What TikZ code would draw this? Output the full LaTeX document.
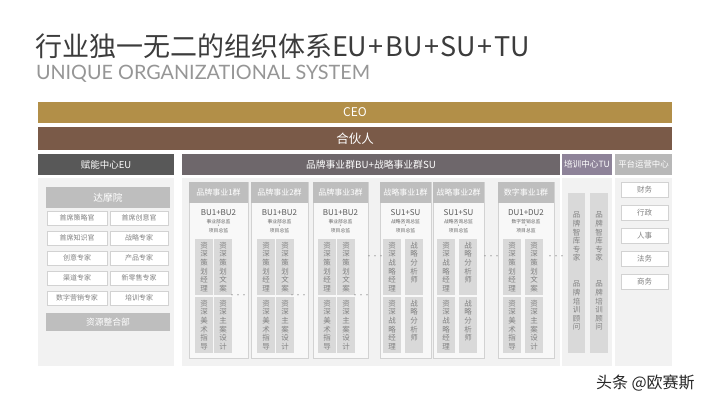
\documentclass[tikz,border=0pt]{standalone}
\usepackage{fontspec}
\setmainfont{Noto Sans CJK SC}
\newfontfamily\latinfont{Lato}
\usetikzlibrary{positioning}

\definecolor{ceogold}{RGB}{178,143,72}
\definecolor{partnerbrown}{RGB}{122,90,72}
\definecolor{eugray}{RGB}{88,88,88}
\definecolor{bugray}{RGB}{110,103,107}
\definecolor{tupurple}{RGB}{142,131,153}
\definecolor{platgray}{RGB}{184,184,184}
\definecolor{panelbg}{RGB}{242,242,242}
\definecolor{grpfill}{RGB}{248,248,248}
\definecolor{grpline}{RGB}{210,210,210}
\definecolor{pillargray}{RGB}{217,217,217}
\definecolor{headgray}{RGB}{190,190,190}
\definecolor{labelgray}{RGB}{130,130,130}
\definecolor{titlegray}{RGB}{60,60,60}
\definecolor{subgray}{RGB}{150,150,150}

\begin{document}
\begin{tikzpicture}[x=1pt,y=-1pt,
    every node/.style={inner sep=0pt,outer sep=0pt},
    bar/.style={rectangle,anchor=north west,text=white,minimum height=21pt},
    panel/.style={rectangle,anchor=north west,fill=panelbg,minimum height=188pt},
    subhead/.style={rectangle,anchor=north west,fill=headgray,text=white},
    item/.style={rectangle,anchor=north west,fill=white,draw=grpline,line width=0.6pt,
      minimum height=14pt,text=labelgray,font=\fontsize{7}{7}\selectfont},
    grpbox/.style={rectangle,anchor=north west,fill=grpfill,draw=grpline,line width=0.5pt,
      minimum height=176pt},
    grphead/.style={rectangle,anchor=north west,fill=headgray,text=white,minimum height=21pt,
      font=\fontsize{8}{8}\selectfont},
    pillar/.style={rectangle,anchor=north west,fill=pillargray,minimum width=18pt,minimum height=56pt}]
  \tikzstyle{vtext}=[anchor=north,text=labelgray,align=center,text width=8pt,
    font=\fontsize{7.5}{8.6}\selectfont]
  \tikzstyle{codetext}=[text=black!65,font=\fontsize{8}{8}\selectfont]
  \tikzstyle{tinytext}=[text=black!60,font=\fontsize{4.8}{4.8}\selectfont]
  \tikzstyle{dots}=[text=labelgray,font=\fontsize{6}{6}\selectfont]

  \fill[white] (0,0) rectangle (720,405);
  \useasboundingbox (0,0) rectangle (720,405);

  % Title
  \node[anchor=west,text=titlegray,font=\fontsize{27}{27}\selectfont] (title) at (35,46)
    {行业独一无二的组织体系EU\kern1.5pt+\kern1.5pt BU\kern1.5pt+\kern1.5pt SU\kern1.5pt+\kern1.5pt TU};
  \node[anchor=west,text=subgray,font=\latinfont\fontsize{19.8}{19.8}\selectfont] (subtitle) at (36,74)
    {UNIQUE ORGANIZATIONAL SYSTEM};

  % Top bars
  \node[bar,fill=ceogold,minimum width=634pt,font=\fontsize{12}{12}\selectfont] (ceo) at (38,102) {CEO};
  \node[bar,fill=partnerbrown,minimum width=634pt,minimum height=23pt,
    font=\fontsize{12.5}{12.5}\selectfont] (partner) at (38,127) {合伙人};
  \node[bar,fill=eugray,minimum width=136pt,font=\fontsize{9.5}{9.5}\selectfont] (eu) at (38,154) {赋能中心EU};
  \node[bar,fill=bugray,minimum width=378pt,font=\fontsize{9.8}{9.8}\selectfont] (bu) at (182,154)
    {品牌事业群BU+战略事业群SU};
  \node[bar,fill=tupurple,minimum width=50pt,font=\fontsize{8.6}{8.6}\selectfont] (tu) at (562,154) {培训中心TU};
  \node[bar,fill=platgray,minimum width=57pt,font=\fontsize{8.4}{8.4}\selectfont] (plat) at (615,154) {平台运营中心};

  % Panels
  \node[panel,minimum width=136pt] (eupanel) at (38,178) {};
  \node[panel,minimum width=378pt] (bupanel) at (182,178) {};
  \node[panel,minimum width=50pt] (tupanel) at (562,178) {};
  \node[panel,minimum width=57pt] (platpanel) at (615,178) {};

  % EU panel
  \node[subhead,minimum width=124pt,minimum height=21pt,font=\fontsize{9.7}{9.7}\selectfont] (damo) at (46,187) {达摩院};
  \node[item,minimum width=60pt] (e1) at (47,211) {首席策略官};
  \node[item,minimum width=58pt] (e2) [right=3pt of e1.north east,anchor=north west] {首席创意官};
  \node[item,minimum width=60pt] (e3) [below=6pt of e1] {首席知识官};
  \node[item,minimum width=58pt] (e4) [below=6pt of e2] {战略专家};
  \node[item,minimum width=60pt] (e5) [below=6pt of e3] {创意专家};
  \node[item,minimum width=58pt] (e6) [below=6pt of e4] {产品专家};
  \node[item,minimum width=60pt] (e7) [below=6pt of e5] {渠道专家};
  \node[item,minimum width=58pt] (e8) [below=6pt of e6] {新零售专家};
  \node[item,minimum width=60pt] (e9) [below=6pt of e7] {数字营销专家};
  \node[item,minimum width=58pt] (e10) [below=6pt of e8] {培训专家};
  \node[subhead,minimum width=124pt,minimum height=18pt,font=\fontsize{8.8}{8.8}\selectfont] (res) at (46,313) {资源整合部};

  % Brand and digital groups
  \foreach \i/\bx/\bw/\lx/\rx/\hd/\code/\lead in {
      1/189/59/195/214/品牌事业1群/BU1+BU2/事业部总监,
      2/251/57/257/276/品牌事业2群/BU1+BU2/事业部总监,
      3/313/55/318/337/品牌事业3群/BU1+BU2/事业部总监,
      6/498/56/503/525/数字事业1群/DU1+DU2/数字营销总监}{
    \node[grpbox,minimum width=\bw pt] (g\i) at (\bx,182) {};
    \node[grphead,minimum width=\bw pt] (h\i) at (\bx,182) {\hd};
    \node[codetext] (c\i) at (\bx+\bw/2,213) {\code};
    \node[tinytext] (l\i) at (\bx+\bw/2,222) {\lead};
    \node[tinytext] (s\i) at (\bx+\bw/2,226.6) {•};
    \node[tinytext] (r\i) at (\bx+\bw/2,231) {项目总监};
    \node[pillar] (pa\i) at (\lx,239) {};
    \node[pillar] (pb\i) at (\rx,239) {};
    \node[pillar] (pc\i) at (\lx,297) {};
    \node[pillar] (pd\i) at (\rx,297) {};
    \node[vtext] (ta\i) at (\lx+9,242) {资\\深\\策\\划\\经\\理};
    \node[vtext] (tb\i) at (\rx+9,242) {资\\深\\策\\划\\文\\案};
    \node[vtext] (tc\i) at (\lx+9,300) {资\\深\\美\\术\\指\\导};
    \node[vtext] (td\i) at (\rx+9,300) {资\\深\\主\\案\\设\\计};
  }

  % Strategy groups
  \foreach \i/\bx/\bw/\lx/\rx/\hd in {
      4/380/51/383/405/战略事业1群,
      5/433/51/437/459/战略事业2群}{
    \node[grpbox,minimum width=\bw pt] (g\i) at (\bx,182) {};
    \node[grphead,minimum width=\bw pt] (h\i) at (\bx,182) {\hd};
    \node[codetext] (c\i) at (\bx+\bw/2,213) {SU1+SU};
    \node[tinytext] (l\i) at (\bx+\bw/2,222) {战略咨询总监};
    \node[tinytext] (s\i) at (\bx+\bw/2,226.6) {•};
    \node[tinytext] (r\i) at (\bx+\bw/2,231) {项目总监};
    \node[pillar] (pa\i) at (\lx,239) {};
    \node[pillar] (pb\i) at (\rx,239) {};
    \node[pillar] (pc\i) at (\lx,297) {};
    \node[pillar] (pd\i) at (\rx,297) {};
    \node[vtext] (ta\i) at (\lx+9,242) {资\\深\\战\\略\\经\\理};
    \node[vtext] (tb\i) at (\rx+9,242) {战\\略\\分\\析\\师};
    \node[vtext] (tc\i) at (\lx+9,300) {资\\深\\战\\略\\经\\理};
    \node[vtext] (td\i) at (\rx+9,300) {战\\略\\分\\析\\师};
  }

  % More to come
  \node[dots] (d1) at (238,296) {···};
  \node[dots] (d2) at (298,296) {···};
  \node[dots] (d3) at (361,296) {···};
  \node[dots] (d4) at (375,257) {···};
  \node[dots] (d5) at (491,257) {···};
  \node[dots] (d6) at (556,257) {···};

  % TU panel
  \node[pillar,minimum width=17pt,minimum height=160pt] (tul) at (568,193) {};
  \node[pillar,minimum height=160pt] (tur) at (590,193) {};
  \node[vtext] (tul1) at (576.5,212) {品\\牌\\智\\库\\专\\家};
  \node[vtext] (tul2) at (576.5,281) {品\\牌\\培\\训\\顾\\问};
  \node[vtext] (tur1) at (599,212) {品\\牌\\智\\库\\专\\家};
  \node[vtext] (tur2) at (599,281) {品\\牌\\培\\训\\顾\\问};

  % Platform panel
  \node[item,minimum width=47pt,minimum height=15pt,font=\fontsize{7.5}{7.5}\selectfont] (f1) at (621,182) {财务};
  \node[item,minimum width=47pt,minimum height=15pt,font=\fontsize{7.5}{7.5}\selectfont] (f2) [below=8pt of f1] {行政};
  \node[item,minimum width=47pt,minimum height=15pt,font=\fontsize{7.5}{7.5}\selectfont] (f3) [below=8pt of f2] {人事};
  \node[item,minimum width=47pt,minimum height=15pt,font=\fontsize{7.5}{7.5}\selectfont] (f4) [below=8pt of f3] {法务};
  \node[item,minimum width=47pt,minimum height=15pt,font=\fontsize{7.5}{7.5}\selectfont] (f5) [below=8pt of f4] {商务};

  % Watermark
  \node[anchor=west,text=black!85,font=\fontsize{16}{16}\selectfont] (mark) at (596,383) {头条 @欧赛斯};
\end{tikzpicture}
\end{document}
